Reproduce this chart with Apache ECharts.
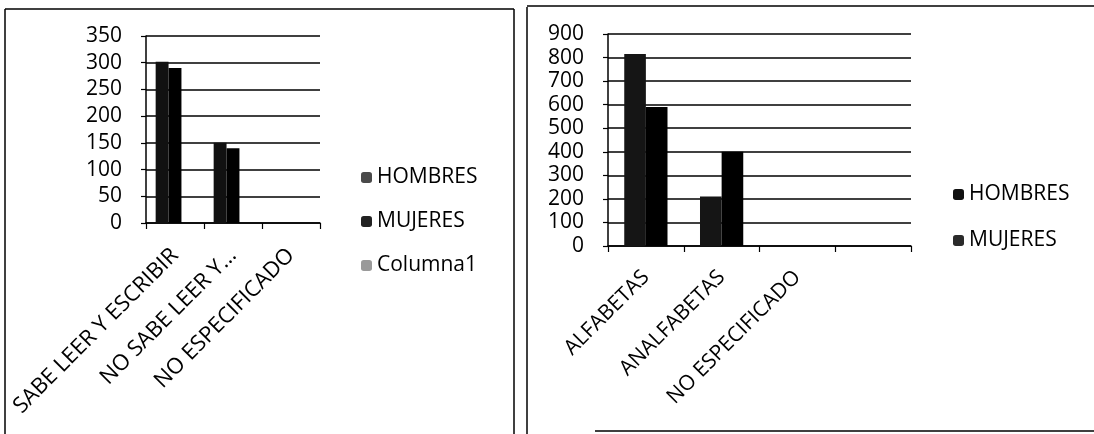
<!DOCTYPE html>
<html>
<head>
<meta charset="utf-8">
<script src="https://cdn.jsdelivr.net/npm/echarts@6/dist/echarts.min.js"></script>
<style>
html,body{margin:0;padding:0;background:#fff;}
#left{position:absolute;left:0;top:0;width:520px;height:434px;}
#right{position:absolute;left:520px;top:0;width:574px;height:434px;}
</style>
</head>
<body>
<div id="left"></div>
<div id="right"></div>
<script>
// Left chart data
const leftCategories = ['SABE LEER Y ESCRIBIR', 'NO SABE LEER Y...', 'NO ESPECIFICADO'];
const leftHombres = [302, 150, 0];
const leftMujeres = [290, 140, 0];
const leftColumna1 = [null, null, null];
const leftYTicks = { min: 0, max: 350, interval: 50 };

// Right chart data
const rightCategories = ['ALFABETAS', 'ANALFABETAS', 'NO ESPECIFICADO', ''];
const rightHombres = [815, 210, 0, null];
const rightMujeres = [590, 400, 0, null];
const rightYTicks = { min: 0, max: 900, interval: 100 };

const FONT = '"Open Sans", "DejaVu Sans", sans-serif';

function yAxis(t) {
  return {
    type: 'value', min: t.min, max: t.max, interval: t.interval,
    axisLine: { show: true, lineStyle: { color: '#000', width: 1.5 } },
    axisTick: { show: true, length: 5, lineStyle: { color: '#000', width: 1.2 } },
    axisLabel: { color: '#000', fontFamily: FONT, fontSize: 21, margin: 24 },
    splitLine: { show: true, lineStyle: { color: '#000', width: 1.5 } }
  };
}
function xAxis(cats, fs, margin) {
  return {
    type: 'category', data: cats,
    axisLine: { show: true, lineStyle: { color: '#000', width: 1.5 } },
    axisTick: { show: true, length: 6, alignWithLabel: false, lineStyle: { color: '#000', width: 1.2 } },
    axisLabel: { color: '#000', fontFamily: FONT, fontSize: fs, rotate: 45, margin: margin, interval: 0 }
  };
}
function frameLine(x1, y1, x2, y2) {
  return { type: 'line', shape: { x1, y1, x2, y2 }, style: { stroke: '#000', lineWidth: 1.5 }, silent: true };
}

const left = echarts.init(document.getElementById('left'), null, { renderer: 'canvas' });
left.setOption({
  animation: false,
  backgroundColor: '#fff',
  grid: { left: 146, top: 36, width: 174, height: 187, containLabel: false },
  xAxis: xAxis(leftCategories, 22, 29),
  yAxis: yAxis(leftYTicks),
  legend: {
    orient: 'vertical', left: 356, top: 162, itemWidth: 11, itemHeight: 11, itemGap: 23, itemTextGap: 10,
    textStyle: { color: '#000', fontFamily: FONT, fontSize: 21 },
    data: [
      { name: 'HOMBRES', itemStyle: { color: '#4a4a4a' } },
      { name: 'MUJERES', itemStyle: { color: '#222' } },
      { name: 'Columna1', itemStyle: { color: '#9a9a9a' } }
    ]
  },
  series: [
    { name: 'HOMBRES', type: 'bar', data: leftHombres, barGap: '0%', barCategoryGap: '33.3%', itemStyle: { color: '#111' } },
    { name: 'MUJERES', type: 'bar', data: leftMujeres, itemStyle: { color: '#000' } },
    { name: 'Columna1', type: 'bar', data: leftColumna1, itemStyle: { color: '#9a9a9a' } }
  ],
  graphic: [
    frameLine(5, 9, 5, 434),
    frameLine(5, 9, 514, 9),
    frameLine(514, 9, 514, 434)
  ]
});

const right = echarts.init(document.getElementById('right'), null, { renderer: 'canvas' });
right.setOption({
  animation: false,
  backgroundColor: '#fff',
  grid: { left: 88, top: 34, width: 303, height: 212, containLabel: false },
  xAxis: xAxis(rightCategories, 21, 28),
  yAxis: yAxis(rightYTicks),
  legend: {
    orient: 'vertical', left: 428, top: 179, itemWidth: 11, itemHeight: 11, itemGap: 25, itemTextGap: 9,
    textStyle: { color: '#000', fontFamily: FONT, fontSize: 21 },
    data: [
      { name: 'HOMBRES', itemStyle: { color: '#111' } },
      { name: 'MUJERES', itemStyle: { color: '#2a2a2a' } }
    ]
  },
  series: [
    { name: 'HOMBRES', type: 'bar', data: rightHombres, barGap: '0%', barCategoryGap: '42.9%', itemStyle: { color: '#151515' } },
    { name: 'MUJERES', type: 'bar', data: rightMujeres, itemStyle: { color: '#000' } }
  ],
  graphic: [
    frameLine(7, 7, 7, 434),
    frameLine(7, 6, 574, 6),
    frameLine(75, 431, 574, 431)
  ]
});
</script>
</body>
</html>
